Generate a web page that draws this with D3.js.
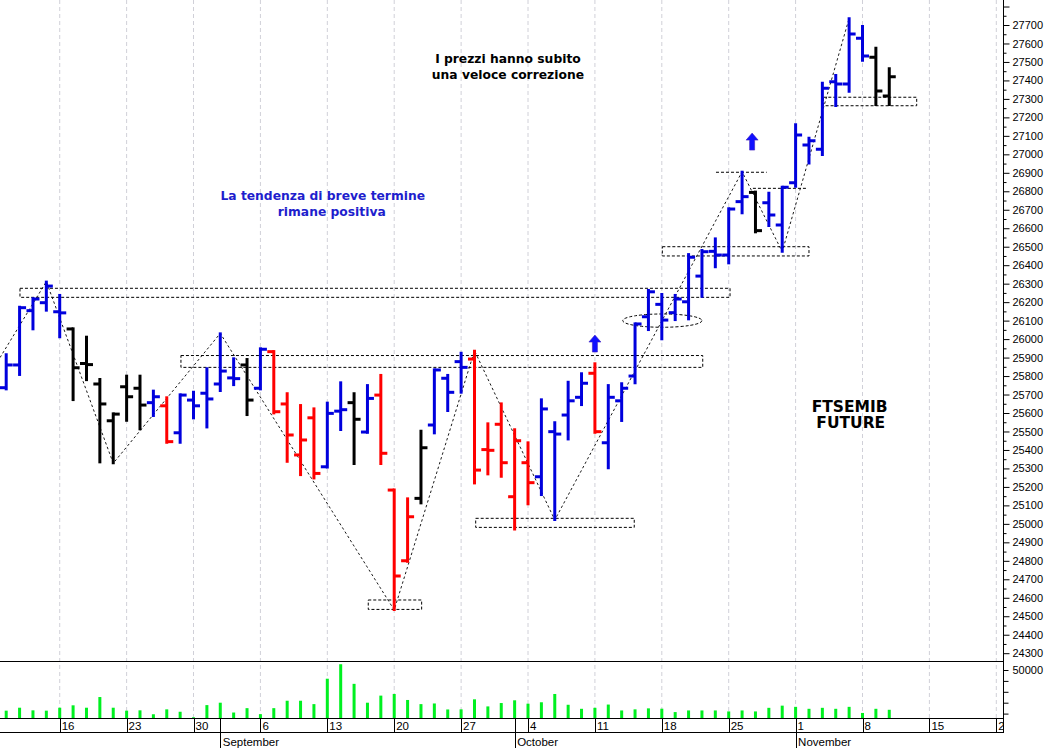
<!DOCTYPE html>
<html><head><meta charset="utf-8">
<script src="https://cdn.jsdelivr.net/npm/d3@7"></script>
<style>body{margin:0;background:#fff}svg{display:block}</style>
</head><body>
<svg id="c" width="1052" height="748"></svg>
<script>
// ---------------- DATA ----------------
const dates = [
 "2021-08-10","2021-08-11","2021-08-12","2021-08-13","2021-08-16","2021-08-17","2021-08-18","2021-08-19","2021-08-20",
 "2021-08-23","2021-08-24","2021-08-25","2021-08-26","2021-08-27","2021-08-30","2021-08-31",
 "2021-09-01","2021-09-02","2021-09-03","2021-09-06","2021-09-07","2021-09-08","2021-09-09","2021-09-10",
 "2021-09-13","2021-09-14","2021-09-15","2021-09-16","2021-09-17","2021-09-20","2021-09-21","2021-09-22","2021-09-23","2021-09-24",
 "2021-09-27","2021-09-28","2021-09-29","2021-09-30",
 "2021-10-01","2021-10-04","2021-10-05","2021-10-06","2021-10-07","2021-10-08","2021-10-11","2021-10-12","2021-10-13","2021-10-14","2021-10-15",
 "2021-10-18","2021-10-19","2021-10-20","2021-10-21","2021-10-22","2021-10-25","2021-10-26","2021-10-27","2021-10-28","2021-10-29",
 "2021-11-01","2021-11-02","2021-11-03","2021-11-04","2021-11-05","2021-11-08","2021-11-09","2021-11-10"
];
const open = [25737,25860,26154,26197,26148,26055,25868,25757,25558,25742,25734,25656,25639,25493,25670,25707,
 25757,25790,25860,25734,25932,25649,25373,25574,25309,25610,25656,25497,25697,25183,24800,25138,25535,25788,25878,
 25892,25402,25539,25147,25331,25255,25499,25589,25685,25815,25439,25666,25800,26121,26188,26143,26202,26341,26475,
 26455,26744,26794,26738,26617,26846,27050,27027,27393,27381,27628,27525,27316];
const high = [25918,26175,26221,26311,26239,26058,26013,25784,25598,25802,25802,25721,25685,25701,25715,25842,
 26031,25896,25892,25950,25935,25707,25643,25625,25656,25766,25707,25751,25806,25186,25138,25504,25836,25806,25926,
 25937,25544,25652,25512,25441,25674,25550,25769,25815,25869,25751,25761,26085,26266,26244,26239,26460,26482,26545,
 26708,26906,26798,26792,26825,27163,27090,27388,27429,27736,27695,27577,27466];
const low = [25728,25806,26053,26154,26010,25670,25778,25333,25328,25558,25512,25584,25439,25439,25571,25522,
 25719,25751,25589,25728,25598,25336,25264,25246,25305,25508,25324,25493,25324,24534,24795,25111,25490,25611,25710,
 25219,25268,25255,24970,25106,25156,25021,25457,25643,25493,25301,25557,25761,26049,25999,26103,26107,26229,26389,
 26410,26681,26578,26612,26473,26825,26951,26996,27262,27339,27507,27267,27267];
const close = [25860,26170,26217,26287,26142,25845,25862,25649,25594,25688,25643,25688,25445,25697,25639,25676,
 25827,25786,25670,25945,25607,25481,25454,25273,25598,25618,25566,25679,25382,24718,25039,25412,25833,25712,25847,
 25291,25398,25331,25450,25223,25622,25486,25666,25761,25499,25685,25734,26082,26256,26103,26217,26443,26473,26455,
 26704,26771,26587,26672,26822,27105,27074,27357,27381,27651,27532,27343,27420];
// trend colour class of every bar: U = blue, D = red, N = black
const trend = "UUUUUNNNNNNUDUUUUUNUDDDDUUNUDDDNUUUDDDDDUUUUDUUUUUUUUUUUNUUUUUUUUNN".split("");
const volume = [12700,15400,13000,12700,15400,17600,15400,25200,15400,12700,13000,9400,13900,11700,6600,17800,
 20000,11000,15000,9500,15000,21800,21800,18700,42000,55300,37300,20000,26500,28000,22500,18700,19300,13800,13900,
 23100,16600,19700,22200,19100,20400,28000,18100,14400,15300,18300,12900,13900,14800,14500,11400,12900,12900,12900,
 12000,12900,12000,15300,17300,16200,14400,15300,14400,16200,10600,14400,13500];

// Monday ticks of the date row (trading-day index and label), incl. future dates
const weekTickIndex = [4,9,14,19,24,29,34,39,44,49,54,59,64,69,74];
const weekTickLabel = ["16","23","30","6","13","20","27","4","11","18","25","1","8","15","22"];
const monthIndex = [16,38,59];
const monthLabel = ["September","October","November"];

// price axis
const priceTicks = d3.range(24300, 27801, 100);
const priceMinor = d3.range(24250, 27851, 100);
const volTicks = [10000,20000,30000,40000,50000];

// annotations (trading-day index / price)
const zigIndex = [-0.46, 3, 8, 16, 29, 35, 41, 55, 58, 63];
const zigPrice = [25900, 26311, 25328, 26031, 24534, 25937, 25021, 26906, 26473, 27736];
const boxFrom  = [1.03, 13.06, 27.06, 35.09, 49.04, 61.07];
const boxTo    = [54.1, 52.06, 31.05, 46.94, 60.0, 68.05];
const boxTop   = [26275, 25911, 24588, 25030, 26500, 27309];
const boxBot   = [26226, 25847, 24537, 24981, 26450, 27263];
const ellFrom = 46.08, ellTo = 52.0, ellTop = 26136, ellBot = 26064;
const lineFrom = [53.05, 55.81], lineTo = [56.84, 59.83], linePrice = [26903, 26816];
const arrowIndex = [44, 55.75], arrowPrice = [26022, 27115];

const notes = [
 {t:"I prezzi hanno subito", i:37.5, p:27494, c:"#000", s:12.3},
 {t:"una veloce correzione", i:37.5, p:27408, c:"#000", s:12.3},
 {t:"La tendenza di breve termine", i:23.66, p:26753, c:"#1e1ecd", s:12.3},
 {t:"rimane positiva", i:24.33, p:26666, c:"#1e1ecd", s:12.3},
 {t:"FTSEMIB", i:63.04, p:25607, c:"#000", s:15.5},
 {t:"FUTURE", i:63.12, p:25517, c:"#000", s:15.5}
];

// ---------------- CHART ----------------
const svg = d3.select("#c");
const AX = 1003.5;           // right axis position
const PANEL_BOTTOM = 661.5;  // bottom of price panel
const VOL_BOTTOM = 718;
const DATE_BOTTOM = 733;

const x = d3.scaleLinear().domain([0, 74]).range([6.2, 996.3]);
const y = d3.scaleLinear().domain([24300, 27700]).range([653.2, 25]);
const yv = d3.scaleLinear().domain([0, 50000]).range([724.5, 670]);

const colorOf = {U:"#0000dd", D:"#ff0000", N:"#000000"};
const font = "'Liberation Sans', Arial, sans-serif";

const defs = svg.append("defs");
defs.append("clipPath").attr("id","cp").append("rect").attr("x",0).attr("y",0).attr("width",AX).attr("height",PANEL_BOTTOM);
defs.append("clipPath").attr("id","cv").append("rect").attr("x",0).attr("y",PANEL_BOTTOM+0.5).attr("width",AX).attr("height",VOL_BOTTOM-PANEL_BOTTOM-0.5);
defs.append("clipPath").attr("id","cd").append("rect").attr("x",0).attr("y",VOL_BOTTOM).attr("width",AX).attr("height",40);

// grid
svg.append("g").selectAll("line").data(weekTickIndex).join("line")
  .attr("x1", d=>x(d)).attr("x2", d=>x(d)).attr("y1",0).attr("y2",VOL_BOTTOM)
  .attr("stroke","#d0d0d8").attr("stroke-dasharray","4,3");

const main = svg.append("g").attr("clip-path","url(#cp)");

// boxes
main.append("g").selectAll("rect").data(boxFrom).join("rect")
  .attr("x",(d)=>x(d)).attr("width",(d,k)=>x(boxTo[k])-x(d))
  .attr("y",(d,k)=>y(boxTop[k])).attr("height",(d,k)=>y(boxBot[k])-y(boxTop[k]))
  .attr("fill","none").attr("stroke","#000").attr("stroke-width",1).attr("stroke-dasharray","3,2");
main.append("ellipse")
  .attr("cx",(x(ellFrom)+x(ellTo))/2).attr("cy",(y(ellTop)+y(ellBot))/2)
  .attr("rx",(x(ellTo)-x(ellFrom))/2).attr("ry",(y(ellBot)-y(ellTop))/2)
  .attr("fill","none").attr("stroke","#000").attr("stroke-dasharray","3,2");
main.append("g").selectAll("line").data(lineFrom).join("line")
  .attr("x1",d=>x(d)).attr("x2",(d,k)=>x(lineTo[k]))
  .attr("y1",(d,k)=>y(linePrice[k])).attr("y2",(d,k)=>y(linePrice[k]))
  .attr("stroke","#000").attr("stroke-dasharray","3,2");

// zigzag
const zig = zigIndex.map((d,k)=>[x(d), y(zigPrice[k])]);
main.append("path").attr("d", d3.line()(zig))
  .attr("fill","none").attr("stroke","#000").attr("stroke-width",0.9).attr("stroke-dasharray","2.5,2.5");

// OHLC bars
const bars = main.append("g").selectAll("g").data(dates).join("g")
  .attr("stroke",(d,k)=>colorOf[trend[k]]).attr("stroke-width",3);
bars.append("line").attr("x1",(d,k)=>x(k)).attr("x2",(d,k)=>x(k))
  .attr("y1",(d,k)=>y(high[k])-1).attr("y2",(d,k)=>y(low[k])+1);
bars.append("line").attr("x1",(d,k)=>x(k)-6.5).attr("x2",(d,k)=>x(k))
  .attr("y1",(d,k)=>y(open[k])).attr("y2",(d,k)=>y(open[k]));
bars.append("line").attr("x1",(d,k)=>x(k)).attr("x2",(d,k)=>x(k)+6.5)
  .attr("y1",(d,k)=>y(close[k])).attr("y2",(d,k)=>y(close[k]));

// arrows
main.append("g").selectAll("path").data(arrowIndex).join("path")
  .attr("transform",(d,k)=>`translate(${x(d)},${y(arrowPrice[k])})`)
  .attr("d","M0,0 L6,7 L2.5,7 L2.5,17 L-2.5,17 L-2.5,7 L-6,7 Z")
  .attr("fill","#1010ff").attr("stroke","#4020c0").attr("stroke-width",0.6);

// notes
main.append("g").selectAll("text").data(notes).join("text")
  .attr("x",d=>x(d.i)).attr("y",d=>y(d.p)).attr("text-anchor","middle")
  .attr("font-family","'DejaVu Sans', Verdana, sans-serif").attr("font-weight","bold")
  .attr("font-size",d=>d.s).attr("fill",d=>d.c).text(d=>d.t);

// volume
svg.append("g").attr("clip-path","url(#cv)").selectAll("rect").data(volume).join("rect")
  .attr("x",(d,k)=>x(k)-1.5).attr("width",3)
  .attr("y",d=>yv(d)).attr("height",d=>VOL_BOTTOM-yv(d))
  .attr("fill","#00f020");

// frame lines
const fr = svg.append("g").attr("stroke","#000").attr("stroke-width",1);
fr.append("line").attr("x1",0).attr("x2",AX).attr("y1",PANEL_BOTTOM).attr("y2",PANEL_BOTTOM);
fr.append("line").attr("x1",0).attr("x2",AX).attr("y1",VOL_BOTTOM+0.5).attr("y2",VOL_BOTTOM+0.5);
fr.append("line").attr("x1",0).attr("x2",AX).attr("y1",DATE_BOTTOM-0.5).attr("y2",DATE_BOTTOM-0.5);
fr.append("line").attr("x1",AX).attr("x2",AX).attr("y1",0).attr("y2",DATE_BOTTOM);

// price axis
const pAxis = d3.axisRight(y).tickValues(priceTicks).tickSize(6).tickPadding(3)
  .tickFormat(d=> d<=27700 ? d : "");
const gp = svg.append("g").attr("transform",`translate(${AX},0)`).call(pAxis);
gp.select(".domain").remove();
gp.selectAll("text").attr("font-family",font).attr("font-size",11).attr("fill","#000");
svg.append("g").attr("transform",`translate(${AX},0)`)
  .call(d3.axisRight(y).tickValues(priceMinor.filter(v=>y(v)<PANEL_BOTTOM-1)).tickSize(3).tickFormat(""))
  .select(".domain").remove();

// volume axis
const gv = svg.append("g").attr("transform",`translate(${AX},0)`)
  .call(d3.axisRight(yv).tickValues(volTicks).tickSize(5).tickPadding(4).tickFormat(d=> d===50000 ? d : ""));
gv.select(".domain").remove();
gv.selectAll("text").attr("font-family",font).attr("font-size",11).attr("fill","#000");

// date row
const dr = svg.append("g").attr("clip-path","url(#cd)");
dr.selectAll("line.w").data(weekTickIndex).join("line").attr("class","w")
  .attr("x1",d=>Math.round(x(d))+0.5).attr("x2",d=>Math.round(x(d))+0.5).attr("y1",VOL_BOTTOM).attr("y2",DATE_BOTTOM)
  .attr("stroke","#000");
dr.selectAll("text.w").data(weekTickIndex).join("text").attr("class","w")
  .attr("x",d=>x(d)+2).attr("y",730).attr("font-family",font).attr("font-size",11.5)
  .text((d,k)=>weekTickLabel[k]);
dr.selectAll("line.m").data(monthIndex).join("line").attr("class","m")
  .attr("x1",d=>Math.round(x(d))+0.5).attr("x2",d=>Math.round(x(d))+0.5).attr("y1",VOL_BOTTOM).attr("y2",748)
  .attr("stroke","#000");
dr.selectAll("text.m").data(monthIndex).join("text").attr("class","m")
  .attr("x",d=>x(d)+2.5).attr("y",745.5).attr("font-family",font).attr("font-size",11.5)
  .text((d,k)=>monthLabel[k]);
</script>
</body></html>
